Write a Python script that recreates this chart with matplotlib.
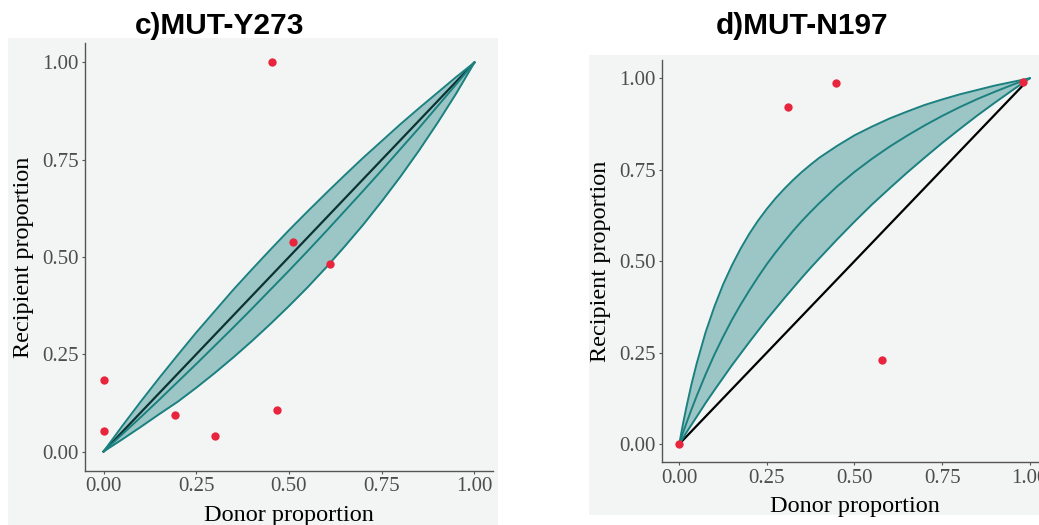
import matplotlib
matplotlib.use("Agg")
import matplotlib.pyplot as plt
from matplotlib.patches import Rectangle

# panel c) MUT-Y273
c_donor = [0.0, 0.0, 0.194, 0.30, 0.468, 0.455, 0.511, 0.611]
c_recip = [0.183, 0.054, 0.095, 0.041, 0.108, 1.0, 0.538, 0.481]
c_curve_x = [0, 0.05, 0.1, 0.15, 0.2, 0.25, 0.3, 0.35, 0.4, 0.45, 0.5,
             0.55, 0.6, 0.65, 0.7, 0.75, 0.8, 0.85, 0.9, 0.95, 1.0]
c_upper = [0, 0.065, 0.128, 0.189, 0.248, 0.306, 0.361, 0.416, 0.468, 0.519, 0.569,
           0.617, 0.664, 0.710, 0.755, 0.798, 0.841, 0.882, 0.922, 0.962, 1.0]
c_mid = [0, 0.044, 0.088, 0.133, 0.179, 0.225, 0.272, 0.319, 0.367, 0.416, 0.465,
         0.515, 0.566, 0.618, 0.670, 0.723, 0.777, 0.831, 0.887, 0.943, 1.0]
c_lower = [0, 0.031, 0.063, 0.096, 0.128, 0.164, 0.202, 0.242, 0.284, 0.328, 0.374,
           0.422, 0.473, 0.527, 0.583, 0.643, 0.706, 0.773, 0.844, 0.919, 1.0]
c_ref_x = [0, 1.0]
c_ref_y = [0, 1.0]

# panel d) MUT-N197
d_donor = [0.0, 0.311, 0.446, 0.579, 0.98]
d_recip = [0.0, 0.921, 0.988, 0.229, 0.989]
d_curve_x = [0, 0.01, 0.02, 0.035, 0.05, 0.075, 0.1, 0.125, 0.15, 0.175, 0.2, 0.225,
             0.25, 0.275, 0.3, 0.325, 0.35, 0.375, 0.4, 0.45, 0.5, 0.55, 0.6, 0.65,
             0.7, 0.75, 0.8, 0.85, 0.9, 0.95, 1.0]
d_upper = [0, 0.052, 0.099, 0.164, 0.221, 0.305, 0.375, 0.436, 0.488, 0.534, 0.575, 0.611,
           0.643, 0.672, 0.698, 0.722, 0.744, 0.764, 0.783, 0.815, 0.844, 0.868, 0.890, 0.909,
           0.927, 0.942, 0.956, 0.968, 0.980, 0.990, 1.0]
d_mid = [0, 0.029, 0.056, 0.095, 0.132, 0.190, 0.244, 0.293, 0.339, 0.381, 0.420, 0.457,
         0.492, 0.524, 0.554, 0.583, 0.610, 0.635, 0.659, 0.704, 0.744, 0.780, 0.813, 0.843,
         0.871, 0.897, 0.921, 0.943, 0.963, 0.982, 1.0]
d_lower = [0, 0.015, 0.031, 0.053, 0.075, 0.112, 0.147, 0.181, 0.215, 0.247, 0.279, 0.310,
           0.341, 0.370, 0.399, 0.427, 0.455, 0.482, 0.508, 0.559, 0.608, 0.655, 0.699, 0.742,
           0.783, 0.823, 0.861, 0.898, 0.933, 0.967, 1.0]
d_ref_x = [0, 0.985]
d_ref_y = [0, 0.985]

ticks = [0.0, 0.25, 0.5, 0.75, 1.0]
tick_labels = ["0.00", "0.25", "0.50", "0.75", "1.00"]

bg = "#F3F5F4"
teal = "#1B8080"
red = "#E8253D"

fig = plt.figure(figsize=(10.39, 5.25), dpi=100)
fig.patch.set_facecolor("white")
# grey plot backgrounds, behind the axes
fig.patches.append(Rectangle((0.0077, 0.0), 0.4716, 0.9276, transform=fig.transFigure,
                             facecolor=bg, edgecolor="none", zorder=-10))
fig.patches.append(Rectangle((0.5669, 0.019), 0.4331, 0.876, transform=fig.transFigure,
                             facecolor=bg, edgecolor="none", zorder=-10))

ax1 = fig.add_axes([0.0818, 0.1029, 0.3927, 0.8152])
ax2 = fig.add_axes([0.6369, 0.1194, 0.371, 0.7663])

panels = [
    (ax1, c_donor, c_recip, c_curve_x, c_upper, c_mid, c_lower, c_ref_x, c_ref_y),
    (ax2, d_donor, d_recip, d_curve_x, d_upper, d_mid, d_lower, d_ref_x, d_ref_y),
]

for ax, dx, ry, cx, up, mid, lo, rx, rfy in panels:
    ax.set_zorder(1)
    ax.set_facecolor(bg)
    ax.plot(rx, rfy, color="black", lw=1.6, zorder=2)
    ax.fill_between(cx, lo, up, color=teal, alpha=0.4, lw=0, zorder=3)
    ax.plot(cx, up, color=teal, lw=1.4, zorder=4)
    ax.plot(cx, mid, color=teal, lw=1.4, zorder=4)
    ax.plot(cx, lo, color=teal, lw=1.4, zorder=4)
    ax.scatter(dx, ry, s=36, color=red, zorder=5, clip_on=False, linewidths=0)
    ax.set_xlim(-0.05, 1.05)
    ax.set_ylim(-0.05, 1.05)
    ax.set_xticks(ticks)
    ax.set_yticks(ticks)
    ax.set_xticklabels(tick_labels, family="Liberation Serif", fontsize=15, color="#4D4D4D")
    ax.set_yticklabels(tick_labels, family="Liberation Serif", fontsize=15, color="#4D4D4D")
    ax.tick_params(length=2.5, width=0.8, color="#555555", pad=2)
    for s in ["top", "right"]:
        ax.spines[s].set_visible(False)
    for s in ["left", "bottom"]:
        ax.spines[s].set_color("#555555")
        ax.spines[s].set_linewidth(1.0)
    ax.set_xlabel("Donor proportion", family="Liberation Serif", fontsize=17.5, labelpad=6)
    ax.set_ylabel("Recipient proportion", family="Liberation Serif", fontsize=17.5, labelpad=6)

fig.text(220 / 1039, 1 - 26 / 525, "c)MUT-Y273", ha="center", va="center",
         family="Liberation Sans", fontweight="bold", fontsize=21.5)
fig.text(802 / 1039, 1 - 26 / 525, "d)MUT-N197", ha="center", va="center",
         family="Liberation Sans", fontweight="bold", fontsize=21.5)

fig.savefig("out.png", dpi=100, facecolor="white")
